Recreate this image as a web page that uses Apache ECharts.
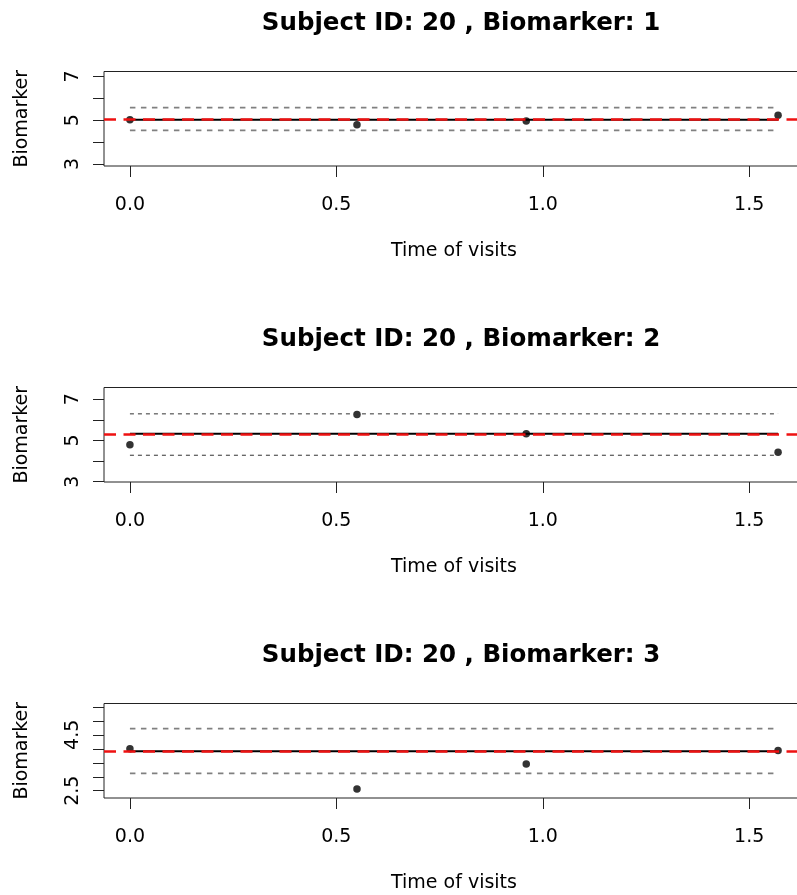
<!DOCTYPE html>
<html>
<head>
<meta charset="utf-8">
<script src="https://cdn.jsdelivr.net/npm/echarts@6/dist/echarts.min.js"></script>
<style>
html,body{margin:0;padding:0;background:#fff;}
#chart{width:797px;height:895px;}
</style>
</head>
<body>
<div id="chart"></div>
<script>
// ---- data ----
const visitTimes = [0, 0.55, 0.96, 1.57];
const biomarker1 = [5.03, 4.80, 4.97, 5.23];
const biomarker2 = [4.79, 6.26, 5.32, 4.42];
const biomarker3 = [4.00, 2.56, 3.46, 3.94];
const refLevel = [5.03, 5.32, 3.915];
const upperBound = [5.58, 6.29, 4.72];
const lowerBound = [4.54, 4.28, 3.12];
const panelTitles = ['Subject ID: 20 , Biomarker: 1', 'Subject ID: 20 , Biomarker: 2', 'Subject ID: 20 , Biomarker: 3'];
const xTicks = [0, 0.5, 1.0, 1.5];
const xRange = [-0.0628, 1.6328];
const yRanges = [[2.91, 7.23], [2.98, 7.57], [2.24, 5.62]];
const yTicks = [[3, 4, 5, 6, 7], [3, 4, 5, 6, 7], [2.5, 3, 3.5, 4, 4.5, 5, 5.5]];
const yLabels = [[3, 5, 7], [3, 5, 7], [2.5, 4.5]];
const xAxisTitle = 'Time of visits';
const yAxisTitle = 'Biomarker';

const seriesValues = [biomarker1, biomarker2, biomarker3];
const FONT = 'DejaVu Sans';
const panelTop = [71.5, 387.5, 703.5];
const gridH = 94.5;

const chart = echarts.init(document.getElementById('chart'), null, {renderer: 'canvas'});

const grids = [], xAxes = [], yAxes = [], series = [], titles = [];
for (let p = 0; p < 3; p++) {
  grids.push({left: 104, top: panelTop[p], width: 700, height: gridH, show: true,
    borderColor: '#222', borderWidth: 1, backgroundColor: 'transparent',
    containLabel: false, outerBoundsMode: 'none'});
  titles.push({text: panelTitles[p], left: 456, top: panelTop[p] - 65, textAlign: 'center',
    textStyle: {fontFamily: FONT, fontSize: 24.5, fontWeight: 'bold', color: '#000'}});
  xAxes.push({type: 'value', gridIndex: p, min: xRange[0], max: xRange[1],
    axisLine: {show: false, onZero: false}, splitLine: {show: false},
    axisTick: {show: true, customValues: xTicks, length: 11, lineStyle: {color: '#222', width: 1}},
    axisLabel: {show: true, customValues: xTicks, margin: 30, formatter: v => v.toFixed(1),
      fontFamily: FONT, fontSize: 19, color: '#000'},
    name: xAxisTitle, nameLocation: 'middle', nameGap: 76,
    nameTextStyle: {fontFamily: FONT, fontSize: 19, color: '#000'}});
  yAxes.push({type: 'value', gridIndex: p, min: yRanges[p][0], max: yRanges[p][1],
    axisLine: {show: false, onZero: false}, splitLine: {show: false},
    axisTick: {show: true, customValues: yTicks[p], length: 11, lineStyle: {color: '#222', width: 1}},
    axisLabel: {show: true, customValues: yLabels[p], rotate: 90, margin: 21,
      formatter: v => String(v), fontFamily: FONT, fontSize: 19, color: '#000'},
    name: yAxisTitle, nameLocation: 'middle', nameGap: 72,
    nameTextStyle: {fontFamily: FONT, fontSize: 19, color: '#000'}});

  const xs = visitTimes, ys = seriesValues[p];
  const x0 = xs[0], x1 = xs[xs.length - 1];
  const thin = p === 1;
  const boundStyle = thin
    ? {color: '#333', width: 1, type: [4, 4], cap: 'butt'}
    : {color: '#808080', width: 1.6, type: [5.5, 5.5], cap: 'butt'};
  series.push({type: 'scatter', xAxisIndex: p, yAxisIndex: p, z: 2,
    data: xs.map((x, i) => [x, ys[i]]), symbol: 'circle', symbolSize: 7.5,
    itemStyle: {color: '#000'}, silent: true});
  series.push({type: 'line', xAxisIndex: p, yAxisIndex: p, z: 3, showSymbol: false, silent: true,
    data: [[x0, refLevel[p]], [x1, refLevel[p]]], lineStyle: {color: '#000', width: 2}});
  series.push({type: 'line', xAxisIndex: p, yAxisIndex: p, z: 3, showSymbol: false, silent: true,
    data: [[x0, upperBound[p]], [x1, upperBound[p]]], lineStyle: boundStyle});
  series.push({type: 'line', xAxisIndex: p, yAxisIndex: p, z: 3, showSymbol: false, silent: true,
    data: [[x0, lowerBound[p]], [x1, lowerBound[p]]], lineStyle: boundStyle});
  series.push({type: 'line', xAxisIndex: p, yAxisIndex: p, z: 4, data: [], silent: true,
    markLine: {silent: true, symbol: ['none', 'none'], label: {show: false},
      data: [{yAxis: refLevel[p]}],
      lineStyle: {color: '#ee1111', width: 2.6, type: [12, 7.5], cap: 'butt'},
      emphasis: {disabled: true}, animation: false}});
}

chart.setOption({
  animation: false,
  backgroundColor: '#fff',
  title: titles,
  grid: grids,
  xAxis: xAxes,
  yAxis: yAxes,
  series: series
});
</script>
</body>
</html>
